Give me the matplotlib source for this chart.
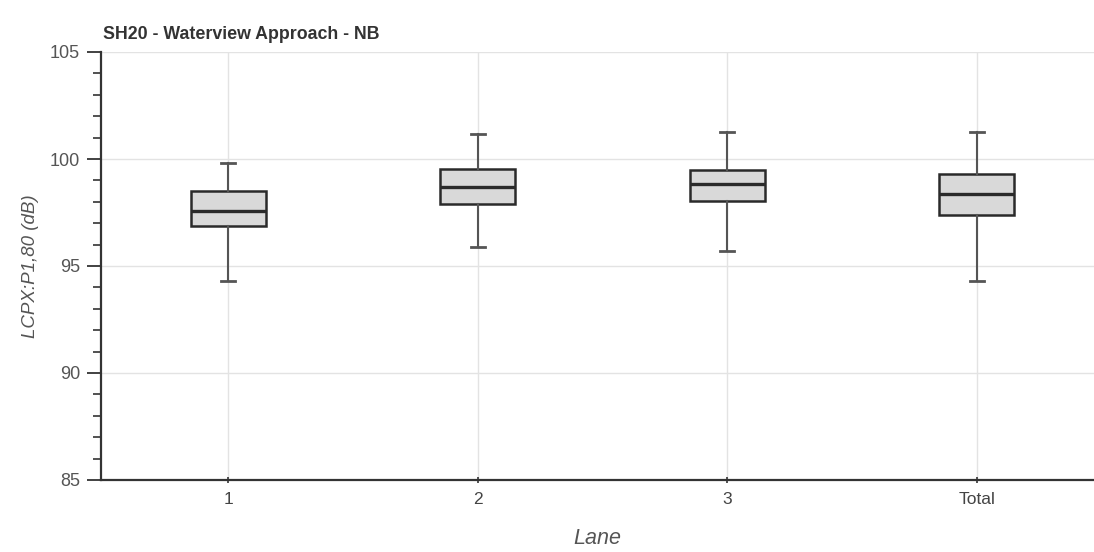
import matplotlib
matplotlib.use("Agg")
import matplotlib.pyplot as plt
from matplotlib.ticker import MultipleLocator

plt.rcParams['font.family'] = ['Liberation Sans', 'DejaVu Sans']

categories = ["1", "2", "3", "Total"]
whisker_low = [94.31, 95.89, 95.71, 94.31]
q1 = [96.85, 97.90, 98.04, 97.37]
median = [97.56, 98.69, 98.82, 98.38]
q3 = [98.50, 99.52, 99.49, 99.30]
whisker_high = [99.83, 101.15, 101.26, 101.26]

title = "SH20 - Waterview Approach - NB"
xlabel = "Lane"
ylabel = "LCPX:P1,80 (dB)"

fig = plt.figure(figsize=(10.94, 5.52), dpi=100)
ax = fig.add_axes([101/1094, 72/552, 1 - 101/1094, (480-52)/552])

stats = []
for i, c in enumerate(categories):
    stats.append(dict(label=c, whislo=whisker_low[i], q1=q1[i], med=median[i],
                      q3=q3[i], whishi=whisker_high[i], fliers=[]))

positions = list(range(len(categories)))
ax.bxp(stats, positions=positions, widths=0.30, patch_artist=True, showfliers=False,
       boxprops=dict(facecolor="#d9d9d9", edgecolor="#2a2a2a", linewidth=1.8),
       medianprops=dict(color="#2a2a2a", linewidth=2.4),
       whiskerprops=dict(color="#555555", linewidth=1.5),
       capprops=dict(color="#555555", linewidth=2.0),
       capwidths=0.055, zorder=3)

ax.set_xlim(-0.51, 3.47)
ax.set_ylim(85, 105)
ax.yaxis.set_major_locator(MultipleLocator(5))
ax.yaxis.set_minor_locator(MultipleLocator(1))
ax.set_xticks(positions)
ax.set_xticklabels(categories)

ax.grid(True, which="major", color="#e3e3e3", linewidth=1.0, zorder=0)
ax.set_axisbelow(True)

for s in ["top", "right"]:
    ax.spines[s].set_visible(False)
for s in ["left", "bottom"]:
    ax.spines[s].set_color("#333333")
    ax.spines[s].set_linewidth(1.6)

ax.tick_params(axis="y", which="major", direction="out", length=10, width=1.3,
               color="#333333", labelsize=13, labelcolor="#555555", pad=5)
ax.tick_params(axis="y", which="minor", direction="out", length=6, width=1.2,
               color="#333333")
ax.tick_params(axis="x", which="major", direction="inout", length=5, width=1.2,
               color="#333333", labelsize=12.5, labelcolor="#444444", pad=6)

ax.set_ylabel(ylabel, fontsize=13.5, color="#555555", style="italic", labelpad=8)
ax.set_xlabel(xlabel, fontsize=15.5, color="#555555", style="italic", labelpad=15)

fig.text(103, 552 - 39, title, fontsize=12.8, fontweight="bold",
         color="#333333", ha="left", va="baseline", transform=None)

fig.savefig("out.png", dpi=100)
